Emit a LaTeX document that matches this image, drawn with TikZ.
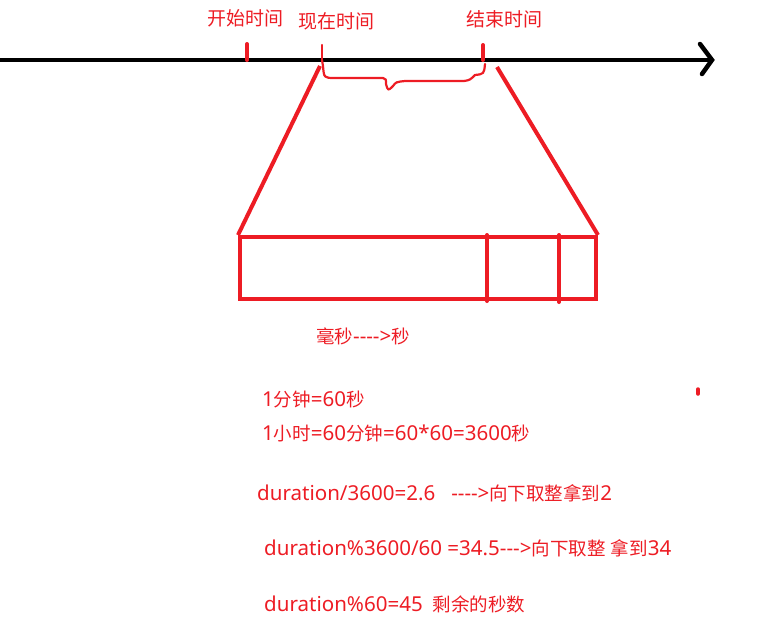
\documentclass[tikz,border=0pt]{standalone}
\usepackage{fontspec}
\setmainfont{Noto Sans}[Scale=1.11, Ligatures=TeXOff]
\newfontfamily\cjk{Noto Sans CJK SC}[Ligatures=TeXOff]
\usetikzlibrary{positioning}
\definecolor{paintred}{RGB}{237,28,36}
\newcommand{\zh}[1]{{\cjk #1}}

\begin{document}
\begin{tikzpicture}[x=1pt, y=-1pt,
	lbl/.style={text=paintred, font=\fontsize{18.5}{20}\selectfont, inner sep=0pt},
	toplbl/.style={lbl, font=\fontsize{19}{20}\selectfont},
	note/.style={lbl, anchor=west},
	redline/.style={draw=paintred, line width=4pt},
	thinred/.style={draw=paintred, line width=2.2pt, line cap=round, line join=round}]
	\useasboundingbox (0,0) rectangle (780,632);

	% time axis
	\coordinate (axisstart) at (0,60);
	\coordinate (axisend) at (712,60);
	\draw [line width=4.5pt] (axisstart) -- (axisend);
	\draw [line width=4.5pt, line cap=round, line join=miter]
		(700,44) -- (axisend) -- (702,74);

	% ticks on the axis
	\coordinate (starttick) at (247,60);
	\coordinate (nowtick) at (322,60);
	\coordinate (endtick) at (483,60);
	\draw [redline, line cap=round] (starttick) -- ++(0,-16);
	\draw [thinred] (nowtick) -- ++(0,-15);
	\draw [redline, line cap=round] (endtick) -- ++(0,-15);

	\node [toplbl] (startlabel) at (245,18) {\zh{开始时间}};
	\node [toplbl] (nowlabel) at (336,21) {\zh{现在时间}};
	\node [toplbl] (endlabel) at (504,19) {\zh{结束时间}};

	% brace between now and end
	\draw [thinred] (nowtick) -- (323,66) .. controls (324,78) .. (335,78)
		-- (383,78) .. controls (386,79) .. (386,84) .. controls (388,91) .. (393,86)
		.. controls (396,82) .. (405,81) -- (464,81) .. controls (470,80) .. (475,75)
		.. controls (484,74) .. (485,64);

	% zoomed block
	\coordinate (blockNW) at (238,235);
	\node [draw=paintred, line width=4pt, inner sep=0pt, minimum width=356pt,
		minimum height=62pt, anchor=north west] (block) at (blockNW) {};
	\draw [redline, line cap=round] (487,235) -- (487,301);
	\draw [redline, line cap=round] (559,235) -- (559,302);

	\draw [redline] (320,66) -- (block.north west);
	\draw [redline] (497,67) -- (block.north east);

	\node [lbl] (unitlabel) at (363,336) {\zh{毫秒}---->\zh{秒}};

	% notes
	\node [note] (minute) at (262,399) {1\zh{分钟}=60\zh{秒}};
	\node [note] (hour) at (262,433) {1\zh{小时}=60\zh{分钟}=60*60=3600\zh{秒}};
	\node [note] (hours) at (257,493) {duration/3600=2.6\hspace{16pt}---->\zh{向下取整拿到}2};
	\node [note] (minutes) at (264,548) {duration\%3600/60 =34.5--->\zh{向下取整} \zh{拿到}34};
	\node [note] (seconds) at (264,604) {duration\%60=45\hspace{10pt}\zh{剩余的秒数}};

	% stray mark
	\draw [paintred, line width=3.5pt, line cap=round] (698,389) -- (698,394);
\end{tikzpicture}
\end{document}
